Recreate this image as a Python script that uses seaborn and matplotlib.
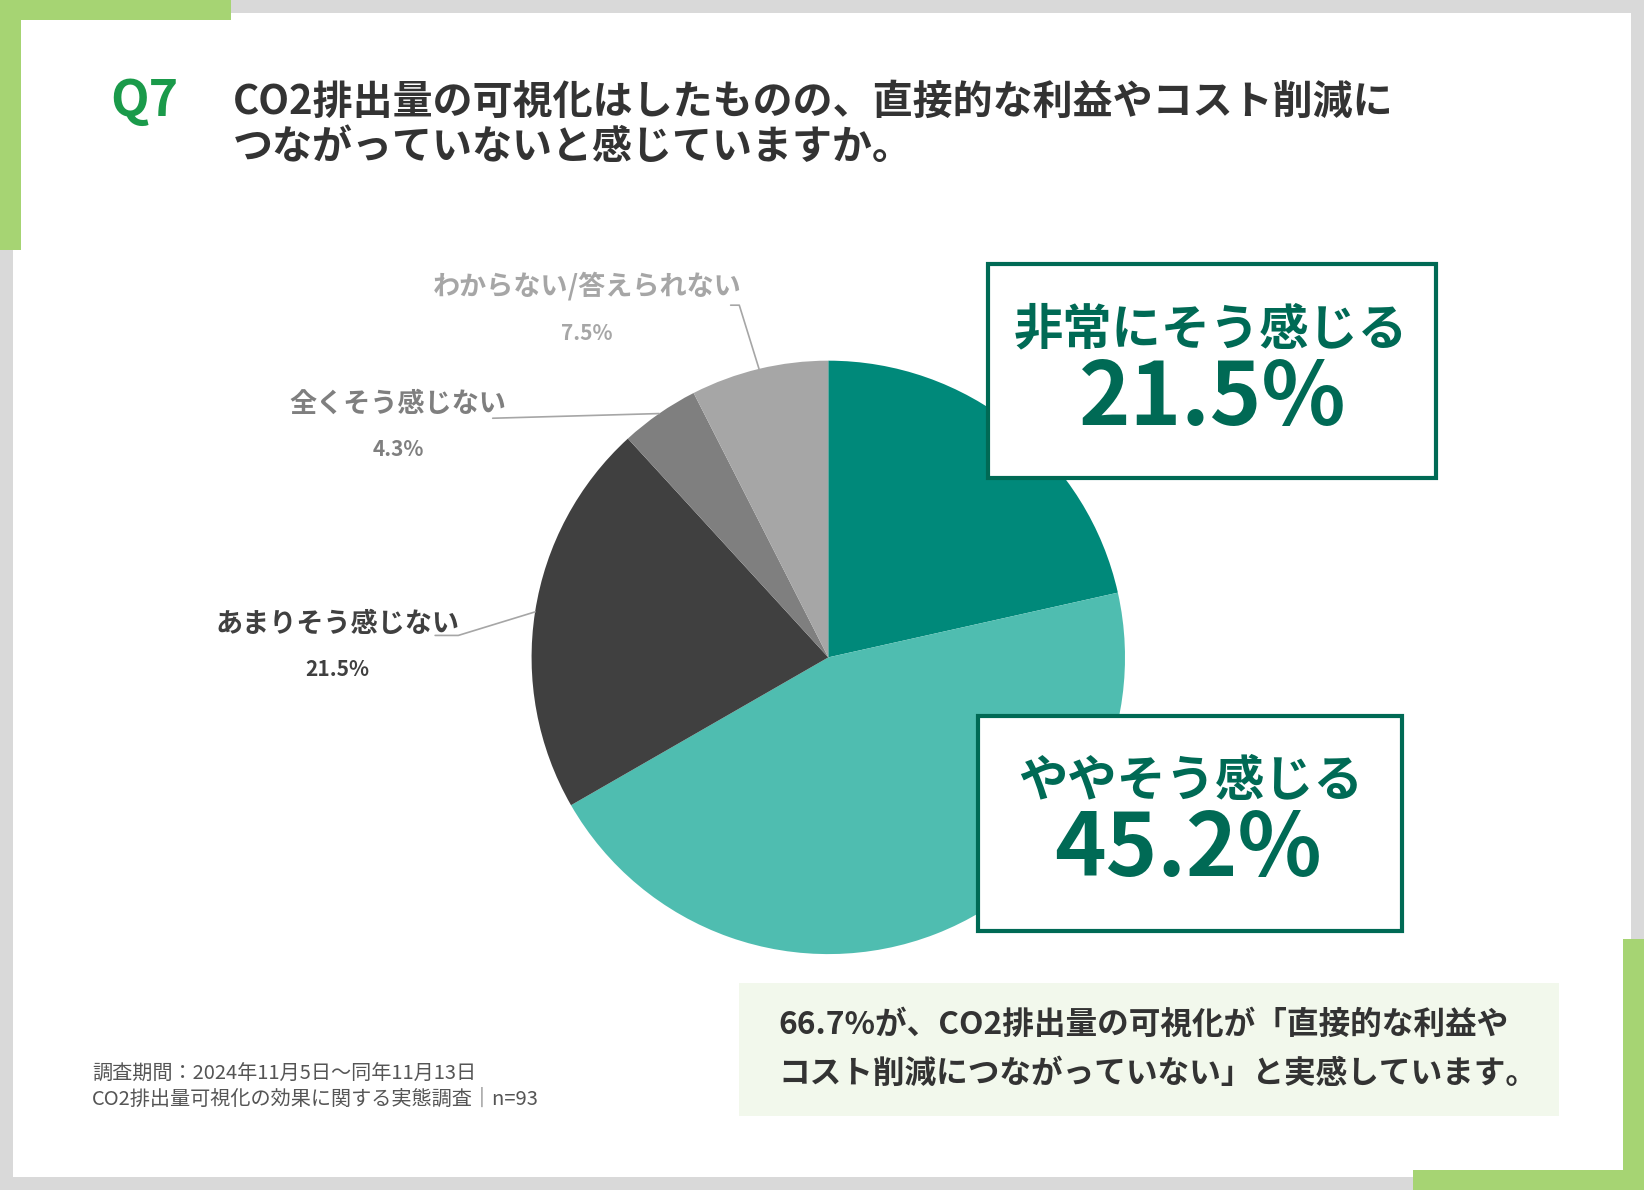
import numpy as np
import matplotlib
matplotlib.use("Agg")
import matplotlib.pyplot as plt
import seaborn as sns
from matplotlib.patches import Rectangle

# data
categories = ["非常にそう感じる", "ややそう感じる", "あまりそう感じない", "全くそう感じない", "わからない/答えられない"]
values = [21.5, 45.2, 21.5, 4.3, 7.5]
slice_colors = ["#00897a", "#4fbdb0", "#404040", "#7f7f7f", "#a6a6a6"]

title_lines = ["CO2排出量の可視化はしたものの、直接的な利益やコスト削減に",
               "つながっていないと感じていますか。"]
summary_lines = ["66.7%が、CO2排出量の可視化が「直接的な利益や",
                 "コスト削減につながっていない」と実感しています。"]
note_lines = ["調査期間：2024年11月5日〜同年11月13日",
              "CO2排出量可視化の効果に関する実態調査｜n=93"]

sns.set_theme(style="white")
plt.rcParams["font.family"] = ["Noto Sans CJK JP", "DejaVu Sans"]

W, H = 1568, 1135  # layout units used for placement
fig = plt.figure(figsize=(16.44, 11.9), dpi=100)
fig.patch.set_facecolor("#d9d9d9")


def layout_axes(z):
    a = fig.add_axes([0, 0, 1, 1], zorder=z)
    a.set_xlim(0, W)
    a.set_ylim(H, 0)
    a.axis("off")
    a.patch.set_alpha(0)
    return a


def rect(ax, x0, y0, x1, y1, **kw):
    ax.add_patch(Rectangle((x0, y0), x1 - x0, y1 - y0, **kw))


bg = layout_axes(0)

# white panel and green corner bars
rect(bg, 12, 12, 1556, 1123, facecolor="white", edgecolor="none")
green = "#a6d473"
rect(bg, 0, 0, 220, 19, facecolor=green, edgecolor="none")
rect(bg, 0, 0, 20, 238, facecolor=green, edgecolor="none")
rect(bg, 1548, 896, 1568, 1135, facecolor=green, edgecolor="none")
rect(bg, 1348, 1116, 1568, 1135, facecolor=green, edgecolor="none")

# title
bg.text(105, 97, "Q7", color="#1a9a4a", fontsize=36, fontweight="bold", va="center", ha="left")
bg.text(222, 98, title_lines[0], color="#333333", fontsize=28.8, fontweight="bold", va="center", ha="left")
bg.text(222, 141, title_lines[1], color="#333333", fontsize=28.8, fontweight="bold", va="center", ha="left")

# pie
cx, cy, r = 790, 627, 283
ax = fig.add_axes([(cx - r) / W, 1 - (cy + r) / H, 2 * r / W, 2 * r / H], zorder=1)
wedges, _ = ax.pie(values, colors=slice_colors, startangle=90, counterclock=False,
                   radius=1, wedgeprops=dict(edgecolor="none"))
ax.set_xlim(-1, 1)
ax.set_ylim(-1, 1)
ax.axis("off")

# outside labels for the grey slices
label_pos = {
    4: dict(text=(-0.813, 1.251), pct=(-0.813, 1.092), path=[(-0.329, 1.187), (-0.300, 1.187)]),
    3: dict(text=(-1.449, 0.855), pct=(-1.449, 0.700), path=[(-1.131, 0.806)]),
    2: dict(text=(-1.654, 0.113), pct=(-1.654, -0.042), path=[(-1.325, 0.074), (-1.247, 0.074)]),
}
for i, pos in label_pos.items():
    w = wedges[i]
    mid = np.deg2rad((w.theta1 + w.theta2) / 2)
    edge = (np.cos(mid), np.sin(mid))
    pts = pos["path"] + [edge]
    ax.plot([p[0] for p in pts], [p[1] for p in pts], color="#a6a6a6", lw=1.2, clip_on=False)
    ax.text(*pos["text"], categories[i], color=slice_colors[i], fontsize=19.5,
            ha="center", va="center", clip_on=False, fontweight="bold")
    ax.text(*pos["pct"], f"{values[i]}%", color=slice_colors[i], fontsize=15,
            ha="center", va="center", fontweight="bold", clip_on=False)

# callout boxes on top of the pie
top = layout_axes(2)
box_green = "#006a55"
boxes = [
    dict(i=0, box=(942, 252, 1370, 456), t1=(1155, 315), t2=(1157, 381)),
    dict(i=1, box=(933, 683, 1337, 888), t1=(1135, 745), t2=(1133, 811)),
]
for b in boxes:
    x0, y0, x1, y1 = b["box"]
    rect(top, x0, y0, x1, y1, facecolor="white", edgecolor=box_green, lw=3)
    top.text(*b["t1"], categories[b["i"]], color=box_green, fontsize=35.5, fontweight="bold",
             ha="center", va="center")
    top.text(*b["t2"], f"{values[b['i']]}%", color=box_green, fontsize=63, fontweight="bold",
             ha="center", va="center")

# summary box
rect(top, 705, 938, 1487, 1064, facecolor="#f2f8ec", edgecolor="none")
top.text(742, 978, summary_lines[0], color="#333333", fontsize=22.8, fontweight="bold", va="center", ha="left")
top.text(742, 1024, summary_lines[1], color="#333333", fontsize=22.8, fontweight="bold", va="center", ha="left")

# footnote
top.text(88, 1025, note_lines[0], color="#555555", fontsize=14.5, va="center", ha="left")
top.text(88, 1049, note_lines[1], color="#555555", fontsize=14.5, va="center", ha="left")

fig.savefig("out.png", dpi=100, facecolor=fig.get_facecolor())
